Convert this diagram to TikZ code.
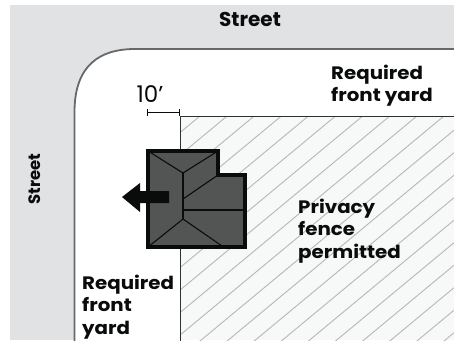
\documentclass[tikz,border=0pt]{standalone}
\usepackage{fontspec}
\setmainfont{Poppins}
\newfontfamily\widefont[FakeStretch=1.1]{Poppins}
\definecolor{road}{HTML}{E1E2E4}
\definecolor{lotline}{HTML}{66696B}
\definecolor{hatchfill}{HTML}{F7F8F8}
\definecolor{hatchline}{HTML}{B5B7B9}
\definecolor{roof}{HTML}{535554}
\definecolor{ink}{HTML}{0A0C0C}
\tikzset{
  x=1pt,y=-1pt,
  label text/.style={text=ink,inner sep=0pt,align=left,anchor=west,font=\widefont\fontsize{18}{22.5}\selectfont\bfseries},
  street text/.style={text=ink,inner sep=0pt,font=\fontsize{20}{22}\selectfont\bfseries},
  roof ridge/.style={draw=ink,line width=1.1pt},
  fence line/.style={draw=ink!85,line width=1pt},
  dim line/.style={draw=ink,line width=0.7pt}
}
\begin{document}
\begin{tikzpicture}
\useasboundingbox (0,0) rectangle (454,340);
\clip (0,0) rectangle (454,340);
\fill[road] (10,5) rectangle (454,340);
\fill[white,draw=lotline,line width=1.8pt] (74.5,345) -- (74.5,112) .. controls (74.5,65) and (100,49) .. (135,49) -- (460,49) -- (460,345) -- cycle;
\fill[hatchfill] (180,116) rectangle (454,340);
\begin{scope}
\clip (180,116) rectangle (454,340);
\foreach \c in {-9,...,11}
  \draw[hatchline,line width=0.9pt] (180,{462+22.5*\c-149.4}) -- (454,{462+22.5*\c-376.8});
\end{scope}
\coordinate (fenceS) at (180,345);
\coordinate (fenceC) at (180,116);
\coordinate (fenceE) at (460,116);
\draw[fence line] (fenceS) -- (fenceC) -- (fenceE);
% dimension
\coordinate (dimL) at (147,112);
\coordinate (dimR) at (179.5,112);
\draw[dim line] (dimL) -- (dimR);
\draw[dim line] ([yshift=-3.5pt]dimL) -- ([yshift=3.5pt]dimL);
\draw[dim line] ([yshift=-3.5pt]dimR) -- ([yshift=3.5pt]dimR);
\node[inner sep=0pt,text=ink,font=\fontsize{23}{26}\selectfont] (ten) at (150,94.5) {10’};
% house
\fill[roof,draw=ink,line width=3.2pt,line join=miter] (148,151) -- (218,151) -- (218,175) -- (245,175) -- (245,247) -- (148,247) -- cycle;
\draw[roof ridge] (148,151) -- (183,173) -- (218,151);
\draw[roof ridge] (183,173) -- (183,219);
\draw[roof ridge] (148,247) -- (183,219) -- (222,246);
\draw[roof ridge] (183,210) -- (245,210);
\draw[roof ridge] (183,199) -- (218,175);
\fill[ink] (169,191) -- (140,191) -- (140,183) -- (122,197) -- (140,212) -- (140,203) -- (169,203) -- cycle;
% labels
\node[street text] (top) at (250,19) {Street};
\node[street text,rotate=90,font=\fontsize{16.5}{18}\selectfont\bfseries] (left) at (35,179) {Street};
\node[label text] (front1) at (331,85.5) {Required\\front yard};
\node[label text] (front2) at (82,307) {Required\\front\\yard};
\node[label text] (privacy) at (298,231) {Privacy\\fence\\permitted};
\end{tikzpicture}
\end{document}
